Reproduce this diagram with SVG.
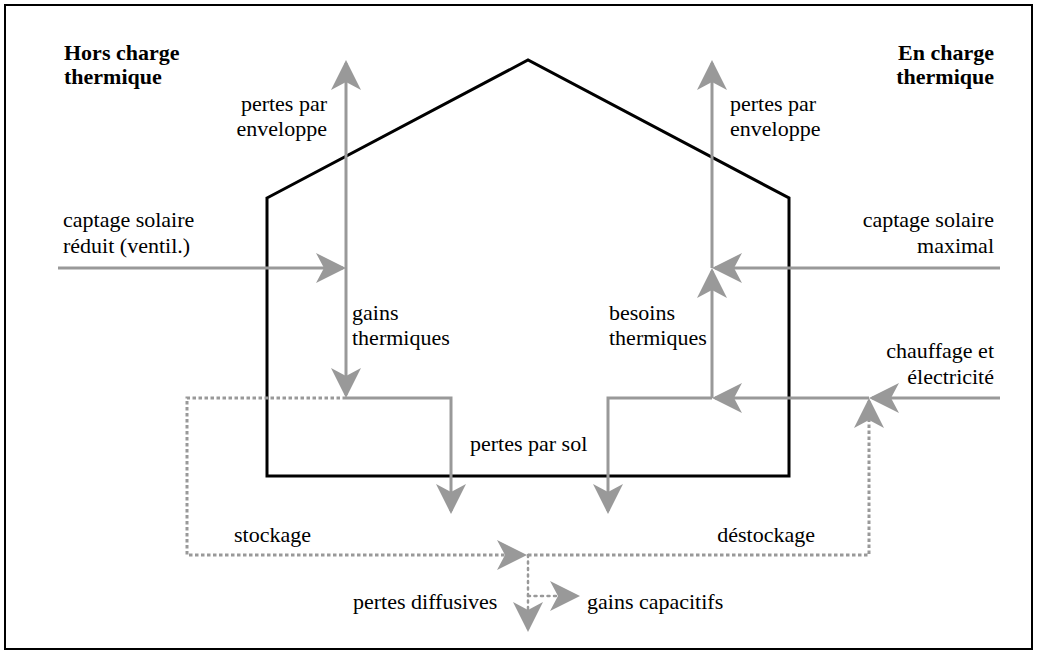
<svg xmlns="http://www.w3.org/2000/svg" width="1038" height="655" viewBox="0 0 1038 655">
<style>
.t{font-family:"Liberation Serif","Times New Roman",serif;font-size:22px;fill:#000}
.b{font-weight:bold}
.e{text-anchor:end}
.m{text-anchor:middle}
.flow{fill:none;stroke:#999;stroke-width:3;marker-end:url(#ah)}
.plain{fill:none;stroke:#999;stroke-width:3}
.dot{fill:none;stroke:#999;stroke-width:3;stroke-dasharray:3.5 2.5}
.dot2{fill:none;stroke:#999;stroke-width:2.5;stroke-dasharray:2 4.5;stroke-linecap:round;marker-end:url(#ah)}
</style>
<defs>
<marker id="ah" markerUnits="userSpaceOnUse" markerWidth="34" markerHeight="32" viewBox="0 0 34 32" refX="30" refY="16" orient="auto" overflow="visible">
<path d="M33,16 L3,1 L11,16 L3,31 Z" fill="#999"/>
</marker>
</defs>
<rect x="5" y="5" width="1027" height="644" fill="#fff" stroke="#000" stroke-width="2"/>
<g id="house">
<path d="M267,198 L528,60 L789,198 L789,476 L267,476 Z" fill="none" stroke="#000" stroke-width="3" stroke-linejoin="miter"/>
</g>
<g id="connectors">
<path class="flow" d="M346,268 V63"/>
<path class="flow" d="M346,268 V395"/>
<path class="flow" d="M58,268 H343"/>
<path class="flow" d="M346,398 H451 V511"/>
<path class="flow" d="M712,268 V63"/>
<path class="flow" d="M712,398 V271"/>
<path class="flow" d="M1000,268 H715"/>
<path class="flow" d="M1000,398 H872"/>
<path class="flow" d="M869,398 H715"/>
<path class="flow" d="M712,398 H608 V511"/>
<path class="dot" d="M346,398 H187 V555 H524" style="marker-end:url(#ah)"/>
<path class="dot" d="M528,555 H869 V401" style="marker-end:url(#ah)"/>
<path class="dot2" d="M528,555 V629"/>
<path class="dot2" d="M528,596 H577"/>
</g>
<g id="title-left"><text class="t b" x="64" y="60">Hors charge</text><text class="t b" x="64" y="84">thermique</text></g>
<g id="title-right"><text class="t b e" x="994" y="60">En charge</text><text class="t b e" x="994" y="84">thermique</text></g>
<g id="pertes-env-left"><text class="t e" x="327" y="111">pertes par</text><text class="t e" x="327" y="136">enveloppe</text></g>
<g id="pertes-env-right"><text class="t" x="730" y="111">pertes par</text><text class="t" x="730" y="136">enveloppe</text></g>
<g id="captage-left"><text class="t" x="63" y="227">captage solaire</text><text class="t" x="63" y="253">réduit (ventil.)</text></g>
<g id="captage-right"><text class="t e" x="994" y="227">captage solaire</text><text class="t e" x="994" y="253">maximal</text></g>
<g id="gains"><text class="t" x="352" y="320">gains</text><text class="t" x="352" y="345">thermiques</text></g>
<g id="besoins"><text class="t" x="609" y="320">besoins</text><text class="t" x="609" y="345">thermiques</text></g>
<g id="chauffage"><text class="t e" x="994" y="358">chauffage et</text><text class="t e" x="994" y="384">électricité</text></g>
<g id="pertes-sol"><text class="t" x="470" y="451">pertes par sol</text></g>
<g id="stockage"><text class="t" x="234" y="542">stockage</text></g>
<g id="destockage"><text class="t e" x="815" y="542">déstockage</text></g>
<g id="pertes-diff"><text class="t" x="353" y="609">pertes diffusives</text></g>
<g id="gains-cap"><text class="t" x="587" y="609">gains capacitifs</text></g>
</svg>
